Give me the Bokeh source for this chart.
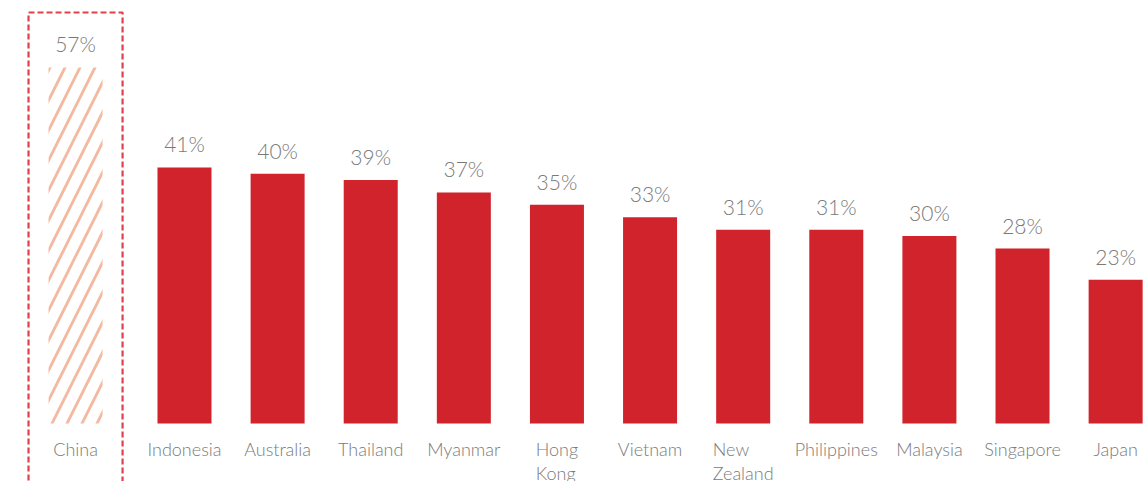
from bokeh.plotting import figure
from bokeh.models import ColumnDataSource, Range1d
from bokeh.core.properties import value
from bokeh.embed import file_html
from bokeh.resources import INLINE

countries = ["China", "Indonesia", "Australia", "Thailand", "Myanmar", "Hong\nKong",
             "Vietnam", "New\nZealand", "Philippines", "Malaysia", "Singapore", "Japan"]
values = [57, 41, 40, 39, 37, 35, 33, 31, 31, 30, 28, 23]
labels = [f"{v}%" for v in values]

# China is set apart from the rest by a small gap
xs = [i + (0.17 if i > 0 else 0.0) for i in range(len(countries))]

FONT = "Lato Light, Lato"
RED = "#d0232b"
GREY = "#7a7a7a"

src = ColumnDataSource(dict(x=xs, top=values, lab=labels, name=countries))
hl = ColumnDataSource(dict(x=xs[:1], top=values[:1]))
rest = ColumnDataSource(dict(x=xs[1:], top=values[1:]))

p = figure(width=1144, height=481, output_backend="svg", toolbar_location=None,
           x_range=Range1d(-0.806, 11.48), y_range=Range1d(-9.29, 67.72),
           min_border=0, outline_line_color=None)
p.xaxis.visible = False
p.yaxis.visible = False
p.grid.visible = False

# highlight dashed frame around China
p.quad(left=[xs[0] - 0.505], right=[xs[0] + 0.505], bottom=[-20], top=[values[0] + 8.8],
       fill_color=None, line_color="#e0404c", line_width=2.2, line_dash="6 3")

# hatched China bar
p.vbar(x="x", top="top", bottom=0, width=0.58, source=hl,
       fill_color=None, line_color=None,
       hatch_pattern="/", hatch_color="#f3b9a1", hatch_scale=30, hatch_weight=2.8)

# other bars
p.vbar(x="x", top="top", bottom=0, width=0.58, source=rest,
       fill_color=RED, line_color=None)

# value labels
p.text(x="x", y="top", text="lab", source=src, y_offset=-11,
       text_align="center", text_baseline="bottom",
       text_font=value(FONT), text_font_size="21px", text_color=GREY)

# category labels
p.text(x="x", y=0, text="name", source=src, y_offset=15,
       anchor="top_center", text_align="left", text_baseline="top",
       text_line_height=1.05,
       text_font=value(FONT), text_font_size="18px", text_color=GREY)

open("out.html", "w").write(file_html(p, INLINE))
